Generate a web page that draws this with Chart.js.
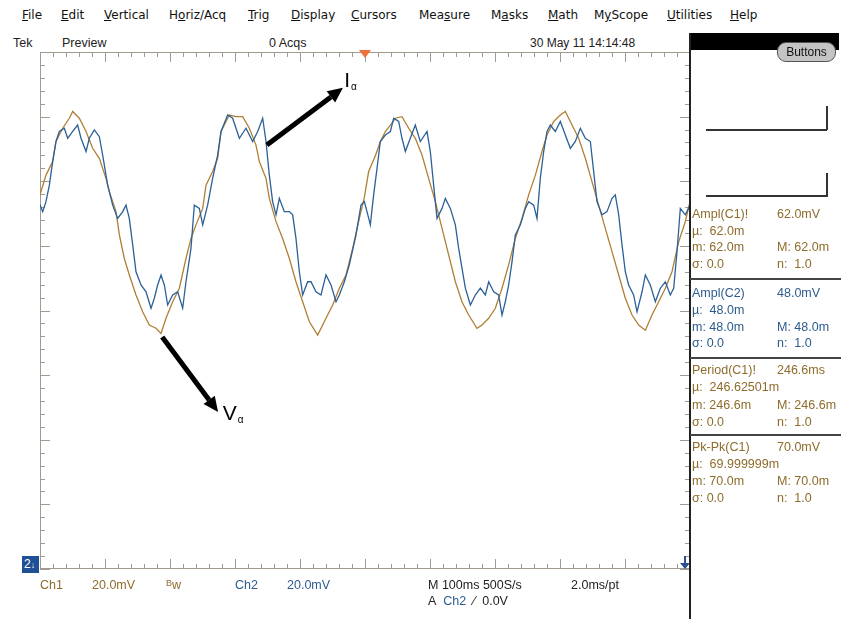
<!DOCTYPE html>
<html>
<head>
<meta charset="utf-8">
<script src="https://cdn.jsdelivr.net/npm/chart.js@4/dist/chart.umd.min.js"></script>
<style>
  body { margin: 0; width: 841px; height: 619px; position: relative; overflow: hidden; background: #fff;
         font-family: "Liberation Sans", Arial, sans-serif; color: #222; }
  .t { position: absolute; white-space: nowrap; line-height: 16px; }
  .menu { font-family: "DejaVu Sans", sans-serif; font-size: 12px; top: 7px; color: #111; }
  .row2 { font-size: 12.5px; top: 35px; color: #222; }
  .bot { font-size: 12.5px; }
  .c1 { color: #8d6c2c; }
  .c2 { color: #2d5c8c; }
  .meas { font-size: 12.5px; }
  #plot { position: absolute; left: 30px; top: 44px; }
  .panelLine { position: absolute; left: 690px; width: 151px; height: 2px; background: #444; }
</style>
</head>
<body>

<!-- menu bar -->
<div class="t menu" style="left:22px"><u>F</u>ile</div>
<div class="t menu" style="left:61px"><u>E</u>dit</div>
<div class="t menu" style="left:104px"><u>V</u>ertical</div>
<div class="t menu" style="left:169px">H<u>o</u>riz/Acq</div>
<div class="t menu" style="left:248px"><u>T</u>rig</div>
<div class="t menu" style="left:291px"><u>D</u>isplay</div>
<div class="t menu" style="left:351px"><u>C</u>ursors</div>
<div class="t menu" style="left:419px">Mea<u>s</u>ure</div>
<div class="t menu" style="left:491px">M<u>a</u>sks</div>
<div class="t menu" style="left:548px"><u>M</u>ath</div>
<div class="t menu" style="left:594px">M<u>y</u>Scope</div>
<div class="t menu" style="left:667px"><u>U</u>tilities</div>
<div class="t menu" style="left:730px"><u>H</u>elp</div>

<!-- status row -->
<div class="t row2" style="left:13px">Tek</div>
<div class="t row2" style="left:62px">Preview</div>
<div class="t row2" style="left:269px">0 Acqs</div>
<div class="t row2" style="left:530px;font-size:12px">30 May 11 14:14:48</div>

<canvas id="plot" width="670" height="535"></canvas>

<!-- right panel -->
<div style="position:absolute;left:690px;top:33px;width:149px;height:17px;background:#000"></div>
<div style="position:absolute;left:689px;top:33px;width:2px;height:586px;background:#222"></div>
<div style="position:absolute;left:777px;top:42px;width:57px;height:18px;border:1px solid #555;border-radius:9px;background:#c4c4c4;font-size:12px;line-height:18px;text-align:center;color:#111">Buttons</div>
<div style="position:absolute;left:706px;top:129px;width:121px;height:1.5px;background:#333"></div>
<div style="position:absolute;left:826px;top:106px;width:1.5px;height:24px;background:#333"></div>
<div style="position:absolute;left:706px;top:195px;width:121px;height:1.5px;background:#333"></div>
<div style="position:absolute;left:826px;top:173px;width:1.5px;height:24px;background:#333"></div>

<div class="t meas c1" style="left:692px;top:206px">Ampl(C1)!</div>
<div class="t meas c1" style="left:777px;top:206px">62.0mV</div>
<div class="t meas c1" style="left:692px;top:223px">µ:&nbsp; 62.0m</div>
<div class="t meas c1" style="left:692px;top:239px">m: 62.0m</div>
<div class="t meas c1" style="left:777px;top:239px">M: 62.0m</div>
<div class="t meas c1" style="left:692px;top:256px">σ: 0.0</div>
<div class="t meas c1" style="left:777px;top:256px">n:&nbsp; 1.0</div>
<div class="panelLine" style="top:278px"></div>

<div class="t meas c2" style="left:692px;top:285px">Ampl(C2)</div>
<div class="t meas c2" style="left:777px;top:285px">48.0mV</div>
<div class="t meas c2" style="left:692px;top:302px">µ:&nbsp; 48.0m</div>
<div class="t meas c2" style="left:692px;top:319px">m: 48.0m</div>
<div class="t meas c2" style="left:777px;top:319px">M: 48.0m</div>
<div class="t meas c2" style="left:692px;top:335px">σ: 0.0</div>
<div class="t meas c2" style="left:777px;top:335px">n:&nbsp; 1.0</div>
<div class="panelLine" style="top:357px"></div>

<div class="t meas c1" style="left:692px;top:362px">Period(C1)!</div>
<div class="t meas c1" style="left:777px;top:362px">246.6ms</div>
<div class="t meas c1" style="left:692px;top:379px">µ:&nbsp; 246.62501m</div>
<div class="t meas c1" style="left:692px;top:397px">m: 246.6m</div>
<div class="t meas c1" style="left:777px;top:397px">M: 246.6m</div>
<div class="t meas c1" style="left:692px;top:414px">σ: 0.0</div>
<div class="t meas c1" style="left:777px;top:414px">n:&nbsp; 1.0</div>
<div class="panelLine" style="top:434px"></div>

<div class="t meas c1" style="left:692px;top:439px">Pk-Pk(C1)</div>
<div class="t meas c1" style="left:777px;top:439px">70.0mV</div>
<div class="t meas c1" style="left:692px;top:456px">µ:&nbsp; 69.999999m</div>
<div class="t meas c1" style="left:692px;top:473px">m: 70.0m</div>
<div class="t meas c1" style="left:777px;top:473px">M: 70.0m</div>
<div class="t meas c1" style="left:692px;top:490px">σ: 0.0</div>
<div class="t meas c1" style="left:777px;top:490px">n:&nbsp; 1.0</div>

<!-- channel 2 ground marker -->
<div style="position:absolute;left:22px;top:556px;width:17px;height:17px;background:#1f4f95;color:#fff;font-size:12px;line-height:17px;padding-left:2px;box-sizing:border-box">2<span style="font-size:9px">↓</span></div>

<!-- bottom readouts -->
<div class="t bot c1" style="left:40px;top:577px">Ch1</div>
<div class="t bot c1" style="left:92px;top:577px">20.0mV</div>
<div class="t bot c1" style="left:166px;top:577px"><span style="font-size:9px;position:relative;top:-3px">B</span>w</div>
<div class="t bot c2" style="left:235px;top:577px">Ch2</div>
<div class="t bot c2" style="left:287px;top:577px">20.0mV</div>
<div class="t bot" style="left:428px;top:577px">M 100ms 500S/s</div>
<div class="t bot" style="left:571px;top:577px">2.0ms/pt</div>
<div class="t bot" style="left:428px;top:593px">A&nbsp; <span class="c2">Ch2</span>&nbsp; ⁄&nbsp; 0.0V</div>

<script>
// Ch1 (voltage, brown) and Ch2 (current, blue) traces: time in ms, level in mV
const ch1Time = [0, 9.2, 19.5, 24.6, 34.9, 45.1, 50.3, 60.5, 70.8, 81.0,
  91.3, 101.5, 106.7, 116.9, 122.1, 129.7, 137.4, 147.7, 157.9, 168.2,
  178.5, 186.2, 193.8, 204.1, 214.4, 224.6, 232.3, 240.0, 250.3, 255.4,
  265.6, 273.3, 278.5, 286.2, 291.3, 301.5, 311.8, 322.1, 332.3, 337.4,
  347.7, 352.8, 363.1, 373.3, 383.6, 393.8, 404.1, 414.4, 427.2, 440.0,
  450.3, 460.5, 470.8, 481.0, 491.3, 499.0,
  505.6, 516.4, 523.6, 531.3, 539.0, 546.7, 556.9, 567.2, 577.4, 587.7,
  597.9, 608.2, 618.5, 628.7, 639.0, 649.2, 659.5, 672.3, 680.0, 690.3,
  700.5, 710.8, 721.0, 731.3, 741.5, 751.8, 762.1, 772.3, 780.0, 790.3,
  800.5, 808.2, 818.5, 828.7, 839.0, 849.2, 859.5, 869.7, 880.0, 890.3,
  900.5, 910.8, 921.0, 931.3, 941.5, 951.8, 962.1, 972.3, 982.6, 992.8, 1000];
const ch1Volt = [35.8, 41.9, 46.1, 52.3, 56.4, 59.5, 61.6, 59.5, 55.4, 50.2,
  47.1, 40.9, 36.8, 30.6, 23.4, 16.1, 11.0, 4.8, -0.4, -4.5,
  -5.5, -7.1, -2.4, 2.7, 6.9, 16.1, 22.3, 26.5, 31.6, 38.8,
  43.0, 47.1, 55.4, 58.5, 60.5, 60.0, 60.0, 56.4, 51.2, 46.1,
  40.9, 34.7, 27.5, 22.3, 16.1, 8.9, 2.7, -3.5, -7.6, -2.4,
  1.7, 6.9, 11.0, 19.2, 28.5, 35.0,
  43.0, 48.1, 52.3, 55.4, 57.4, 59.5, 60.0, 56.4, 53.3, 48.1,
  40.9, 33.7, 25.4, 17.2, 8.9, 2.7, -1.4, -5.5, -4.5, -2.4,
  0.7, 6.9, 14.1, 22.3, 28.5, 35.8, 41.9, 49.2, 54.3, 58.5,
  60.5, 61.6, 57.4, 53.3, 47.1, 39.9, 32.6, 25.4, 18.2, 11.0,
  3.8, -1.4, -4.5, -6.1, -1.4, 2.7, 6.9, 12.0, 21.3, 27.5, 33.7];

const ch2Time = [0, 4.1, 9.2, 14.4, 19.5, 24.6, 29.7, 37.4, 42.6, 50.3,
  57.9, 63.1, 70.8, 75.9, 83.6, 91.3, 96.4, 104.1, 111.8, 119.5,
  127.2, 132.3, 137.4, 142.6, 147.7, 155.4, 163.1, 170.8, 175.9, 181.0,
  186.2, 191.3, 196.4, 204.1, 211.8, 219.5, 224.6, 232.3, 237.4, 245.1,
  250.3, 257.9, 265.6, 273.3, 278.5, 288.7, 296.4, 306.7, 316.9, 327.2,
  334.9, 342.6, 347.7, 352.8, 357.9, 363.1, 368.2, 375.9, 383.6, 388.7,
  393.8, 399.0, 404.1, 411.8, 416.9, 424.6, 432.3, 440.0, 447.7, 455.4,
  460.5, 468.2, 475.9, 486.2, 493.8, 499.0,
  503.1, 508.2, 513.3, 518.5, 523.6, 531.3, 539.0, 544.1, 551.8, 556.9,
  562.1, 569.7, 577.4, 585.1, 595.4, 600.5, 605.6, 610.8, 618.5, 623.6,
  631.3, 639.0, 644.1, 649.2, 654.4, 662.1, 669.7, 677.4, 685.1, 690.3,
  698.0, 705.6, 710.8, 715.9, 721.0, 726.2, 731.3, 739.0, 746.7, 751.8,
  759.5, 764.6, 769.7, 774.9, 780.0, 785.1, 792.8, 800.5, 808.2, 815.9,
  823.6, 831.3, 839.0, 846.7, 851.8, 856.9, 864.6, 872.3, 880.0, 885.1,
  890.3, 895.4, 900.5, 905.6, 913.3, 918.5, 926.2, 931.3, 938.9, 946.7,
  954.4, 962.1, 969.7, 974.9, 980.0, 985.1, 992.8, 1000];
const ch2Volt = [32.7, 30.6, 33.7, 38.8, 46.1, 52.3, 55.4, 56.4, 53.3, 55.4,
  57.4, 53.3, 49.2, 53.3, 55.9, 53.8, 48.1, 38.8, 32.6, 28.5,
  30.6, 32.6, 28.5, 20.3, 12.0, 7.9, 5.8, 0.7, 3.8, 7.9,
  11.0, 7.9, 1.7, 4.8, 5.8, 0.7, 8.9, 19.2, 32.6, 31.6,
  26.5, 32.6, 40.9, 48.1, 55.4, 60.5, 59.5, 53.3, 56.4, 52.3,
  55.4, 59.5, 52.3, 41.9, 33.7, 29.6, 34.7, 30.6, 30.6, 29.6,
  22.3, 12.0, 4.8, 8.9, 8.9, 5.8, 4.8, 11.0, 7.9, 2.7,
  4.8, 8.9, 14.1, 23.4, 32.6, 33.7,
  30.6, 26.5, 35.8, 44.0, 52.3, 54.3, 55.4, 59.5, 58.5, 53.3,
  49.2, 53.3, 57.4, 52.3, 55.4, 49.2, 38.8, 28.5, 31.6, 34.7,
  31.6, 26.5, 19.2, 13.1, 6.9, 1.7, 4.8, 6.9, 4.8, 8.9,
  5.8, 4.8, -1.4, 2.7, 7.9, 15.1, 23.4, 26.5, 31.6, 33.7,
  32.6, 28.5, 40.9, 49.2, 55.4, 57.4, 55.4, 58.5, 54.3, 50.2,
  52.3, 56.4, 53.3, 52.3, 43.0, 33.7, 29.6, 30.6, 34.7, 35.8,
  29.6, 20.3, 12.0, 7.9, 4.8, -0.4, 5.8, 11.0, 7.9, 2.7,
  6.9, 8.9, 4.8, 6.9, 18.2, 31.6, 29.6, 32.6];

// screen: 10 div x 100 ms, 8 div x 20 mV
const timeRange = [0, 1000];
const levelRange = [-80, 80];
const triggerTime = 500;

// pointer arrows with their labels (ms, mV)
const notes = [
  { text: 'I', sub: 'α', tail: [349, 51.2], head: [466, 68.9], at: [468, 71.0] },
  { text: 'V', sub: 'α', tail: [188, -8.2], head: [274, -31.4], at: [281, -32.2] }
];

const graticule = {
  id: 'graticule',
  beforeDatasetsDraw(chart) {
    const { ctx, chartArea: a, scales: { x, y } } = chart;
    ctx.save();
    ctx.strokeStyle = '#a09a90';
    ctx.lineWidth = 1;
    ctx.beginPath();
    ctx.moveTo(a.left + 0.5, a.top); ctx.lineTo(a.left + 0.5, a.bottom);
    ctx.moveTo(a.left, a.top + 0.5); ctx.lineTo(a.right, a.top + 0.5);
    ctx.moveTo(a.left, a.bottom - 0.5); ctx.lineTo(a.right, a.bottom - 0.5);
    for (let t = timeRange[0]; t <= timeRange[1]; t += 20) {
      const px = Math.round(x.getPixelForValue(t)) + 0.5;
      const len = t % 100 === 0 ? 10 : 5;
      ctx.moveTo(px, a.top); ctx.lineTo(px, a.top + len);
      ctx.moveTo(px, a.bottom); ctx.lineTo(px, a.bottom - len);
    }
    for (let v = levelRange[0]; v <= levelRange[1]; v += 4) {
      const py = Math.round(y.getPixelForValue(v)) + 0.5;
      const len = v % 20 === 0 ? 10 : 5;
      ctx.moveTo(a.left, py); ctx.lineTo(a.left + len, py);
      ctx.moveTo(a.right, py); ctx.lineTo(a.right - len, py);
    }
    ctx.stroke();

    // trigger position marker
    const tx = x.getPixelForValue(triggerTime);
    ctx.fillStyle = '#f0703a';
    ctx.beginPath();
    ctx.moveTo(tx - 6, a.top - 2);
    ctx.lineTo(tx + 6, a.top - 2);
    ctx.lineTo(tx, a.top + 6);
    ctx.closePath();
    ctx.fill();

    // record end marker
    ctx.fillStyle = '#2a4f8f';
    ctx.strokeStyle = '#2a4f8f';
    ctx.lineWidth = 2;
    ctx.beginPath();
    ctx.moveTo(a.right - 5, a.bottom - 13); ctx.lineTo(a.right - 5, a.bottom - 5);
    ctx.stroke();
    ctx.beginPath();
    ctx.moveTo(a.right - 10, a.bottom - 6);
    ctx.lineTo(a.right, a.bottom - 6);
    ctx.lineTo(a.right - 5, a.bottom);
    ctx.closePath();
    ctx.fill();
    ctx.restore();
  },
  afterDatasetsDraw(chart) {
    const { ctx, scales: { x, y } } = chart;
    ctx.save();
    ctx.fillStyle = '#000';
    ctx.strokeStyle = '#000';
    notes.forEach(n => {
      const x0 = x.getPixelForValue(n.tail[0]), y0 = y.getPixelForValue(n.tail[1]);
      const x1 = x.getPixelForValue(n.head[0]), y1 = y.getPixelForValue(n.head[1]);
      const ang = Math.atan2(y1 - y0, x1 - x0);
      const hl = 15, hw = 7;
      const bx = x1 - hl * Math.cos(ang), by = y1 - hl * Math.sin(ang);
      ctx.lineWidth = 5;
      ctx.beginPath();
      ctx.moveTo(x0, y0); ctx.lineTo(bx, by);
      ctx.stroke();
      ctx.beginPath();
      ctx.moveTo(x1, y1);
      ctx.lineTo(bx + hw * Math.sin(ang), by - hw * Math.cos(ang));
      ctx.lineTo(bx - hw * Math.sin(ang), by + hw * Math.cos(ang));
      ctx.closePath();
      ctx.fill();

      const lx = x.getPixelForValue(n.at[0]), ly = y.getPixelForValue(n.at[1]);
      ctx.font = '21px "Liberation Sans", Arial, sans-serif';
      ctx.textBaseline = 'middle';
      ctx.textAlign = 'left';
      ctx.fillText(n.text, lx, ly);
      const w = ctx.measureText(n.text).width;
      ctx.font = '10px "Liberation Sans", Arial, sans-serif';
      ctx.fillText(n.sub, lx + w + 1, ly + 6);
    });
    ctx.restore();
  }
};

const toPoints = (ts, vs) => ts.map((t, i) => ({ x: t, y: vs[i] }));

new Chart(document.getElementById('plot').getContext('2d'), {
  type: 'line',
  data: {
    datasets: [
      {
        label: 'Ch2',
        data: toPoints(ch2Time, ch2Volt),
        borderColor: '#2b6098',
        borderWidth: 1.3,
        pointRadius: 0,
        tension: 0,
        order: 0
      },
      {
        label: 'Ch1',
        data: toPoints(ch1Time, ch1Volt),
        borderColor: '#b07f35',
        borderWidth: 1.3,
        pointRadius: 0,
        tension: 0,
        order: 1
      }
    ]
  },
  options: {
    responsive: false,
    animation: false,
    events: [],
    layout: { padding: { left: 10, right: 10, top: 8, bottom: 10 } },
    scales: {
      x: { type: 'linear', min: timeRange[0], max: timeRange[1], display: false },
      y: { type: 'linear', min: levelRange[0], max: levelRange[1], display: false }
    },
    plugins: { legend: { display: false }, tooltip: { enabled: false } }
  },
  plugins: [graticule]
});
</script>
</body>
</html>
